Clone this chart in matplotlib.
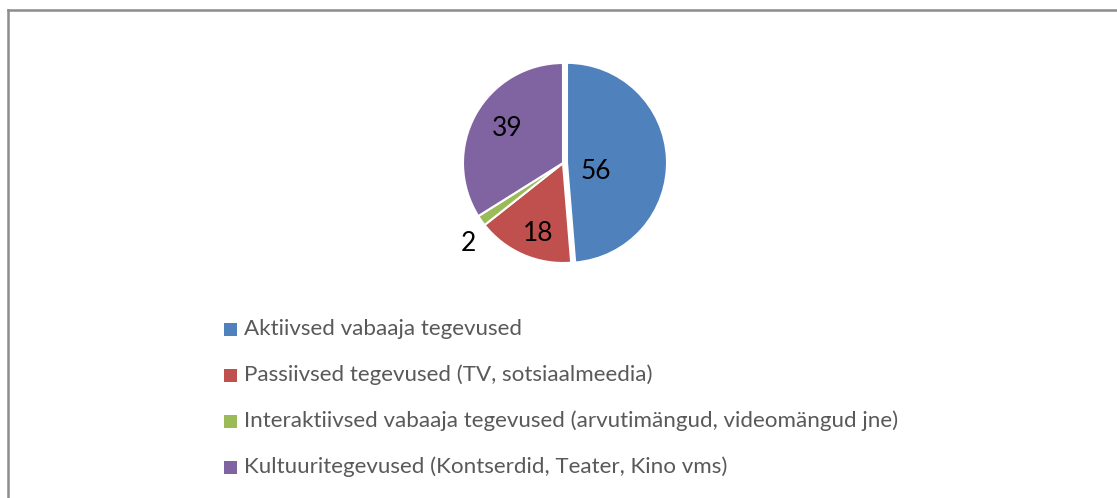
import matplotlib
matplotlib.use("Agg")
import matplotlib.pyplot as plt
from matplotlib.patches import Rectangle
from matplotlib.lines import Line2D
import numpy as np

categories = [
    "Aktiivsed vabaaja tegevused",
    "Passiivsed tegevused (TV, sotsiaalmeedia)",
    "Interaktiivsed vabaaja tegevused (arvutimängud, videomängud jne)",
    "Kultuuritegevused (Kontserdid, Teater, Kino vms)",
]
values = [56, 18, 2, 39]
colors = ["#4F81BD", "#C0504D", "#9BBB59", "#8064A2"]

W, H = 1117, 498
plt.rcParams['font.family'] = ['Lato', 'DejaVu Sans']
fig = plt.figure(figsize=(W / 100, H / 100), dpi=100)
fig.patch.set_facecolor("white")

def fx(px):
    return px / W

def fy(py):
    return 1 - py / H

# chart frame (left and top edges visible)
fig.add_artist(Line2D([fx(8), fx(8)], [fy(10), fy(H + 5)], color="#8C8C8C", lw=1.8))
fig.add_artist(Line2D([fx(8), fx(W + 5)], [fy(10), fy(10)], color="#8C8C8C", lw=1.8))

# pie axes
cx, cy, R = 563, 163, 102
half = 125
ax = fig.add_axes([fx(cx - half), fy(cy + half), 2 * half / W, 2 * half / H])
lim = half / R
ax.set_xlim(-lim, lim)
ax.set_ylim(-lim, lim)
ax.set_aspect("equal")
ax.axis("off")

explode = [0.04, 0, 0, 0]
wedges, _ = ax.pie(values, colors=colors, startangle=90, counterclock=False,
                   explode=explode,
                   wedgeprops=dict(edgecolor="white", linewidth=1.5))

# label placement (distance in radii, angle offset from bisector in degrees)
label_dist = [0.30, 0.73, 1.225, 0.667]
label_rot = [-15.5, 3.8, 4.5, -4.0]
for w, v, d, r in zip(wedges, values, label_dist, label_rot):
    ang = np.deg2rad((w.theta1 + w.theta2) / 2 + r)
    ox, oy = w.center
    ax.text(ox + d * np.cos(ang), oy + d * np.sin(ang) - 0.02, str(v),
            ha="center", va="center", fontsize=19, color="black")

# legend
x0, y0, dy = 224, 329, 46
for i, (lab, col) in enumerate(zip(categories, colors)):
    yc = y0 + i * dy
    fig.add_artist(Rectangle((fx(x0), fy(yc + 7)), 13 / W, 13 / H,
                             facecolor=col, edgecolor="none"))
    fig.text(fx(x0 + 20), fy(yc), lab, ha="left", va="center",
             fontsize=16.1, color="#595959")

fig.savefig("out.png", dpi=100, facecolor="white")
